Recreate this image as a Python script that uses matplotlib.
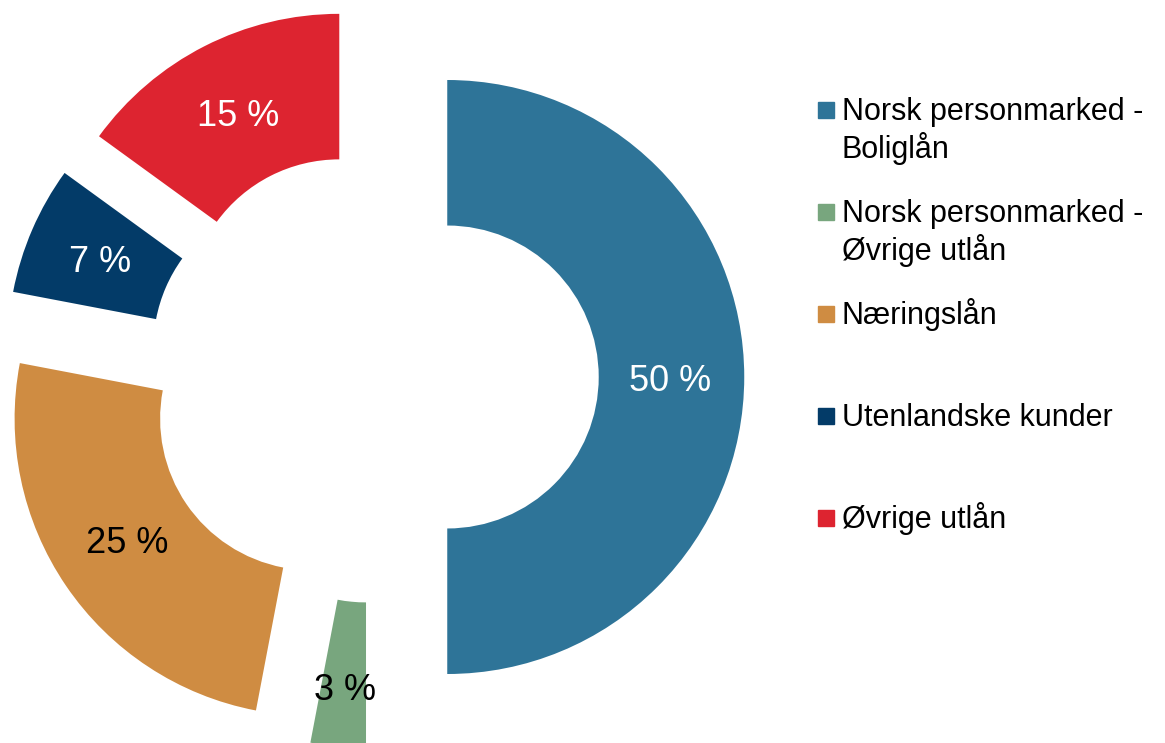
import matplotlib
matplotlib.use('Agg')
import matplotlib.pyplot as plt
from matplotlib.patches import Rectangle

plt.rcParams['font.family'] = ['Liberation Sans', 'DejaVu Sans']

labels = ['Norsk personmarked -\nBoliglån', 'Norsk personmarked -\nØvrige utlån',
          'Næringslån', 'Utenlandske kunder', 'Øvrige utlån']
shares = [50, 3, 25, 7, 15]
colors = ['#2E7498', '#78A67E', '#CF8C42', '#033B68', '#DD2430']
pct_colors = ['white', 'black', 'black', 'white', 'white']

W, H = 1165, 743
fig = plt.figure(figsize=(W / 100, H / 100), dpi=100)
ax = fig.add_axes([0, 0, 1, 1])

wedges, texts, autotexts = ax.pie(
    shares, colors=colors, radius=1, startangle=90, counterclock=False,
    explode=[0.25] * len(shares), wedgeprops=dict(width=0.49, linewidth=0),
    autopct=lambda p: f'{p:.0f} %', pctdistance=0.75,
    textprops=dict(fontsize=26))

# pie centre sits at pixel (373, 377), radius 297 px
cx, cy, R = 373, 377, 297
# nudge the value labels down a little; the thin slice label sits lower
nudge = [4, 18, 0, 3, 4]
for t, c, d in zip(autotexts, pct_colors, nudge):
    t.set_color(c)
    x, y = t.get_position()
    t.set_position((x, y - d / R))

ax.set_xlim(-cx / R, (W - cx) / R)
ax.set_ylim(-(H - cy) / R, cy / R)
ax.set_axis_off()

# legend drawn by hand, one square + label lines per entry
y0, step, pitch = 110, 102, 38
for i, (lab, col) in enumerate(zip(labels, colors)):
    yc = y0 + i * step
    fig.patches.append(Rectangle((818 / W, 1 - (yc + 8) / H), 16 / W, 16 / H,
                                 transform=fig.transFigure, color=col))
    for k, line in enumerate(lab.split('\n')):
        fig.text(842 / W, 1 - (yc + 10 + k * pitch) / H, line, fontsize=22,
                 va='baseline', ha='left')

fig.savefig('out.png', dpi=100)
